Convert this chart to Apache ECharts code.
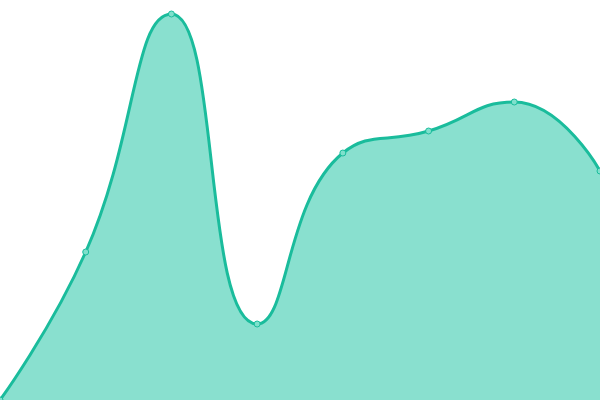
<!DOCTYPE html>
<html><head><meta charset="utf-8">
<script src="https://cdn.jsdelivr.net/npm/echarts@6/dist/echarts.min.js"></script>
<style>html,body{margin:0;padding:0;background:#fff}#c{width:600px;height:400px}</style>
</head><body><div id="c"></div>
<script>
var categories = ['A','B','C','D','E','F','G','H'];
var values = [0, 37, 96.5, 19, 61.75, 67.25, 74.5, 57.25];
var chart = echarts.init(document.getElementById('c'));
chart.setOption({
  animation: false,
  grid: {left: 0, right: 0, top: 0, bottom: 0},
  xAxis: {type: 'category', data: categories, boundaryGap: false, show: false},
  yAxis: {type: 'value', min: 0, max: 100, show: false},
  series: [{
    type: 'line',
    data: values,
    smooth: true,
    symbol: 'circle',
    symbolSize: 6,
    itemStyle: {color: '#7fe0cc', borderColor: '#1abc9c', borderWidth: 1},
    lineStyle: {color: '#1abc9c', width: 3},
    areaStyle: {color: '#89e0cf', opacity: 1}
  }]
});
</script></body></html>
